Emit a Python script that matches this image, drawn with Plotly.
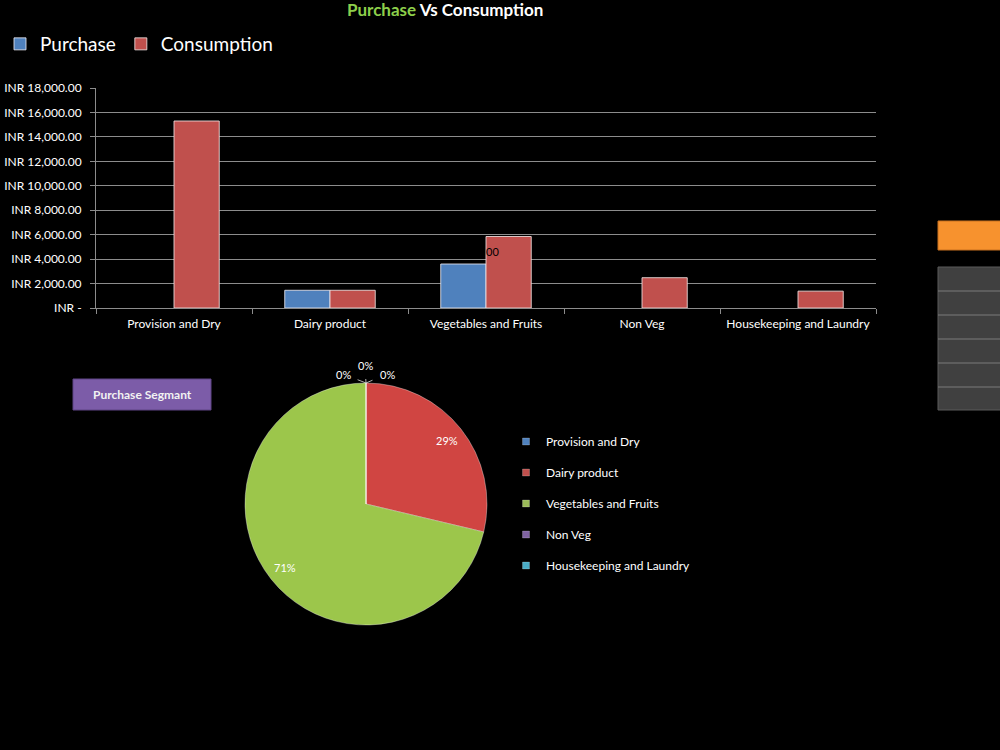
import math
import plotly.graph_objects as go

categories = ["Provision and Dry", "Dairy product", "Vegetables and Fruits", "Non Veg", "Housekeeping and Laundry"]
purchase = [0, 1450, 3600, 0, 0]
consumption = [15300, 1450, 5850, 2480, 1380]
y_tickvals = [0, 2000, 4000, 6000, 8000, 10000, 12000, 14000, 16000, 18000]
y_ticktext = ["INR -", "INR 2,000.00", "INR 4,000.00", "INR 6,000.00", "INR 8,000.00",
              "INR 10,000.00", "INR 12,000.00", "INR 14,000.00", "INR 16,000.00", "INR 18,000.00"]
pie_colors = ["#4F81BD", "#D04542", "#9CC64B", "#8064A2", "#4BACC6"]
legend_colors = ["#4F81BD", "#C0504D", "#9BBB59", "#8064A2", "#4BACC6"]

FONT = "Lato"
W, H = 1000, 750
def px(x): return x / W
def py(y): return 1 - y / H

fig = go.Figure()
fig.add_trace(go.Bar(x=categories, y=[v if v else None for v in purchase], name="Purchase",
                     marker=dict(color="#4F81BD", line=dict(color="rgba(230,230,240,0.85)", width=1)),
                     legend="legend"))
fig.add_trace(go.Bar(x=categories, y=[v if v else None for v in consumption], name="Consumption",
                     marker=dict(color="#C0504D", line=dict(color="rgba(240,225,225,0.85)", width=1)),
                     legend="legend"))

# pie geometry
pcx, pcy, pr = 366, 504, 121
fig.add_trace(go.Pie(labels=categories, values=purchase, sort=False, direction="clockwise",
                     rotation=0, showlegend=False, textinfo="none", hoverinfo="label+percent",
                     marker=dict(colors=pie_colors, line=dict(color="rgba(255,255,255,0.35)", width=1)),
                     domain=dict(x=[px(pcx - pr), px(pcx + pr)], y=[py(pcy + pr), py(pcy - pr)])))

for i, (cat, col) in enumerate(zip(categories, legend_colors)):
    fig.add_trace(go.Scatter(x=[None], y=[None], mode="markers", name=cat,
                             marker=dict(symbol="square", size=7, color=col,
                                         line=dict(color="rgba(255,255,255,0.4)", width=0.5)),
                             xaxis="x2", yaxis="y2", legend="legend2",
                             legendgroup=f"g{i}", showlegend=True))

shapes = []
shapes.append(dict(type="rect", xref="paper", yref="paper", x0=px(938), x1=px(1001), y0=py(250), y1=py(221),
                   fillcolor="#F7922E", line=dict(color="#C8701E", width=1)))
shapes.append(dict(type="rect", xref="paper", yref="paper", x0=px(938), x1=px(1001), y0=py(410), y1=py(267),
                   fillcolor="#404040", line=dict(color="#5A5A5A", width=1)))
for yy in [291, 315, 339, 363, 387]:
    shapes.append(dict(type="line", xref="paper", yref="paper", x0=px(938), x1=px(1001), y0=py(yy), y1=py(yy),
                       line=dict(color="#7A7A7A", width=1)))
shapes.append(dict(type="rect", xref="paper", yref="paper", x0=px(73), x1=px(211), y0=py(410), y1=py(379),
                   fillcolor="#7C5CA8", line=dict(color="#5E4585", width=1)))

annotations = [
    dict(text="<b><span style='color:#8DCF4B'>Purchase</span> Vs Consumption</b>", xref="paper", yref="paper",
         x=px(445), y=py(10), xanchor="center", yanchor="middle", showarrow=False,
         font=dict(color="white", size=17, family=FONT)),
    dict(text="<b>Purchase Segmant</b>", xref="paper", yref="paper", x=px(142), y=py(394),
         xanchor="center", yanchor="middle", showarrow=False, font=dict(color="#F2F2F2", size=12, family=FONT)),
    dict(text="00", xref="paper", yref="paper", x=px(492), y=py(251), xanchor="center", yanchor="middle",
         showarrow=False, font=dict(color="black", size=11, family=FONT)),
]

# pie percentage labels, positioned from the data (Excel-like placement near the rim)
total = sum(purchase)
cum = 0.0
for v in purchase:
    if v > 0:
        mid = (cum + v / 2) / total * 2 * math.pi
        rf = 0.85
        lx = pcx + rf * pr * math.sin(mid)
        ly = pcy - rf * pr * math.cos(mid)
        annotations.append(dict(text=f"{round(100 * v / total)}%", xref="paper", yref="paper",
                                x=px(lx), y=py(ly), xanchor="center", yanchor="middle", showarrow=False,
                                font=dict(color="white", size=11, family=FONT)))
    cum += v
# zero-valued slices: labels with leader lines at the top of the pie
for (tx, ty) in [(343, 374), (365, 365), (387, 374)]:
    annotations.append(dict(text="0%", xref="paper", yref="paper", x=px(pcx), y=py(pcy - pr),
                            ax=tx - pcx, ay=ty - (pcy - pr), showarrow=True, arrowhead=0, arrowwidth=0.8,
                            arrowcolor="#DDDDDD", standoff=0, startstandoff=6,
                            font=dict(color="white", size=11, family=FONT)))

fig.update_layout(
    width=W, height=H, margin=dict(l=0, r=0, t=0, b=0, pad=0), autosize=False,
    paper_bgcolor="black", plot_bgcolor="black",
    font=dict(family=FONT, color="white", size=12),
    barmode="group", bargap=0.42, bargroupgap=0,
    xaxis=dict(domain=[px(96), px(876)], type="category", showgrid=False, automargin=False,
               showline=True, linecolor="#8C8C8C", linewidth=1,
               ticks="outside", tickson="boundaries", ticklen=5, tickcolor="#8C8C8C",
               ticklabelstandoff=5,
               tickfont=dict(size=12, color="white", family=FONT)),
    yaxis=dict(domain=[py(308), py(88)], range=[0, 18000], tickvals=y_tickvals, ticktext=y_ticktext,
               showgrid=True, gridcolor="#8C8C8C", gridwidth=1, zeroline=False, automargin=False,
               showline=True, linecolor="#8C8C8C", ticks="outside", ticklen=5, tickcolor="#8C8C8C",
               ticklabelstandoff=6,
               tickfont=dict(size=12, color="white", family=FONT)),
    xaxis2=dict(visible=False, domain=[0.5, 0.51], anchor="y2", automargin=False),
    yaxis2=dict(visible=False, domain=[0.5, 0.51], anchor="x2", automargin=False),
    legend=dict(orientation="h", x=0.0, y=py(25), xanchor="left", yanchor="top",
                font=dict(size=19, color="white", family=FONT), bgcolor="rgba(0,0,0,0)",
                traceorder="normal"),
    legend2=dict(x=px(506), y=py(427), xanchor="left", yanchor="top", itemwidth=30,
                 font=dict(size=12, color="white", family=FONT), bgcolor="rgba(0,0,0,0)",
                 traceorder="grouped", tracegroupgap=12),
    shapes=shapes, annotations=annotations,
)

fig.write_html("out.html")
